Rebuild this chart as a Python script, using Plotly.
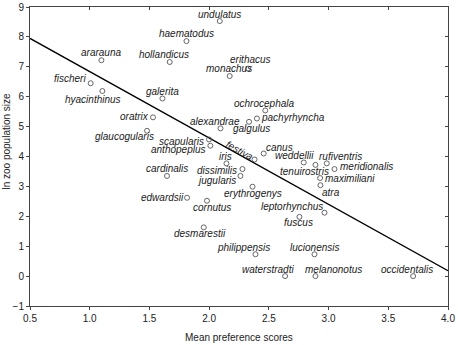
import plotly.graph_objects as go

# ---- data ----
species = ["ararauna", "hollandicus", "fischeri", "hyacinthinus", "galerita", "oratrix",
           "undulatus", "haematodus", "erithacus", "monachus", "ochrocephala", "pachyrhyncha",
           "galgulus", "alexandrae", "glaucogularis", "scapularis", "anthopeplus", "cardinalis",
           "edwardsii", "cornutus", "desmarestii", "festiva", "canus", "weddellii",
           "tenuirostris", "rufiventris", "meridionalis", "maximiliani", "atra", "iris",
           "dissimilis", "jugularis", "erythrogenys", "leptorhynchus", "fuscus", "philippensis",
           "lucionensis", "waterstradti", "melanonotus", "occidentalis"]
preference = [1.098, 1.670, 1.008, 1.106, 1.609, 1.530,
              2.089, 1.810, 2.326, 2.172, 2.470, 2.400,
              2.334, 2.095, 1.480, 1.999, 2.010, 1.647,
              1.815, 1.982, 1.955, 2.380, 2.457, 2.792,
              2.890, 2.985, 3.050, 2.929, 2.932, 2.145,
              2.279, 2.262, 2.363, 2.966, 2.756, 2.388,
              2.882, 2.636, 2.890, 3.708]
ln_pop = [7.22, 7.16, 6.45, 6.19, 5.94, 5.31,
          8.53, 7.86, 6.94, 6.69, 5.54, 5.27,
          5.16, 4.94, 4.86, 4.57, 4.36, 3.35,
          2.62, 2.52, 1.63, 3.90, 4.10, 3.80,
          3.72, 3.77, 3.58, 3.28, 3.04, 3.77,
          3.58, 3.35, 2.99, 2.12, 1.98, 0.73,
          0.73, 0.00, 0.00, 0.00]
fit_x = [0.5, 4.0]
fit_y = [7.95, 0.18]
x_ticks = [0.5, 1.0, 1.5, 2.0, 2.5, 3.0, 3.5, 4.0]
y_ticks = [-1, 0, 1, 2, 3, 4, 5, 6, 7, 8, 9]

# ---- label placement (style): xanchor, xshift, yshift ----
label_style = {
    "ararauna": ("center", 0, 8), "hollandicus": ("center", -6, 8),
    "fischeri": ("right", -3, 5), "hyacinthinus": ("center", -9, -8),
    "galerita": ("center", 0, 7), "oratrix": ("right", -2.5, 1),
    "undulatus": ("center", 0, 7), "haematodus": ("center", 0, 8),
    "erithacus": ("center", 2, 9), "monachus": ("center", -1, 8),
    "ochrocephala": ("center", -1, 7), "pachyrhyncha": ("left", 2.5, 1),
    "galgulus": ("center", 2, -7), "alexandrae": ("center", -5, 7),
    "glaucogularis": ("right", 8.7, -6), "scapularis": ("right", -2.6, -2),
    "anthopeplus": ("right", -2.4, -4), "cardinalis": ("center", 0, 7),
    "edwardsii": ("right", -1.5, 0), "cornutus": ("center", 5, -7),
    "desmarestii": ("center", -4, -6), "festiva": ("center", -15, 9),
    "canus": ("left", 0, 6), "weddellii": ("center", -9, 7),
    "tenuirostris": ("center", -11, -7), "rufiventris": ("center", 14, 7),
    "meridionalis": ("left", 3, 3), "maximiliani": ("left", 3, 0),
    "atra": ("left", 0, -7), "iris": ("center", -1, 7),
    "dissimilis": ("right", -3, -1), "jugularis": ("right", -2.4, -5),
    "erythrogenys": ("center", 0, -7), "leptorhynchus": ("right", 0, 6),
    "fuscus": ("center", -1, -6), "philippensis": ("center", -12, 7),
    "lucionensis": ("center", 0, 7), "waterstradti": ("center", -17, 7),
    "melanonotus": ("center", 18, 7), "occidentalis": ("center", -6, 7),
}
angles = {"festiva": 29}

FONT = "Liberation Sans, Arial, sans-serif"
TXT = "#222222"

fig = go.Figure()
fig.add_trace(go.Scatter(x=fit_x, y=fit_y, mode="lines",
                         line=dict(color="black", width=1.4), hoverinfo="skip"))
fig.add_trace(go.Scatter(x=preference, y=ln_pop, mode="markers",
                         marker=dict(symbol="circle-open", size=5, color="#555555",
                                     line=dict(color="#555555", width=0.9)),
                         text=species))
# invisible trace on mirrored axes
fig.add_trace(go.Scatter(x=[fit_x[0]], y=[fit_y[0]], xaxis="x2", yaxis="y2",
                         mode="markers", marker=dict(opacity=0), hoverinfo="skip"))

for name, xv, yv in zip(species, preference, ln_pop):
    xa, dx, dy = label_style[name]
    fig.add_annotation(x=xv, y=yv, text=f"<i>{name}</i>", showarrow=False,
                       xanchor=xa, yanchor="middle", xshift=dx, yshift=dy,
                       textangle=angles.get(name, 0),
                       font=dict(family=FONT, size=10, color="#1a1a1a"))

axis_common = dict(showgrid=False, zeroline=False, showline=True, automargin=False,
                   linecolor="#444444", linewidth=1, ticklen=3, tickwidth=1,
                   tickcolor="#444444")

fig.update_layout(
    width=458, height=345,
    margin=dict(l=30, r=10, t=7, b=39),
    paper_bgcolor="white", plot_bgcolor="white",
    showlegend=False,
    font=dict(family=FONT, size=10, color=TXT),
    xaxis=dict(range=[0.5, 4.0], tickvals=x_ticks,
               ticktext=[f"{v:.1f}" for v in x_ticks], ticks="outside",
               tickfont=dict(size=10, color=TXT), **axis_common),
    yaxis=dict(range=[-1, 9], tickvals=y_ticks, ticks="outside",
               tickfont=dict(size=10, color=TXT), **axis_common),
    xaxis2=dict(range=[0.5, 4.0], tickvals=x_ticks, overlaying="x", side="top",
                ticks="inside", showticklabels=False, **axis_common),
    yaxis2=dict(range=[-1, 9], tickvals=y_ticks, overlaying="y", side="right",
                ticks="inside", showticklabels=False, **axis_common),
)
# axis titles
fig.add_annotation(text="ln zoo population size", xref="paper", yref="paper",
                   x=0, y=0.55, textangle=-90, showarrow=False,
                   xanchor="center", yanchor="middle", xshift=-23,
                   font=dict(family=FONT, size=10, color=TXT))
fig.add_annotation(text="Mean preference scores", xref="paper", yref="paper",
                   x=0.5, y=0, showarrow=False,
                   xanchor="center", yanchor="middle", yshift=-31,
                   font=dict(family=FONT, size=10, color=TXT))

fig.write_html("out.html", config={"displayModeBar": False},
               post_script="document.body.style.margin='0';document.body.style.overflow='hidden';")
